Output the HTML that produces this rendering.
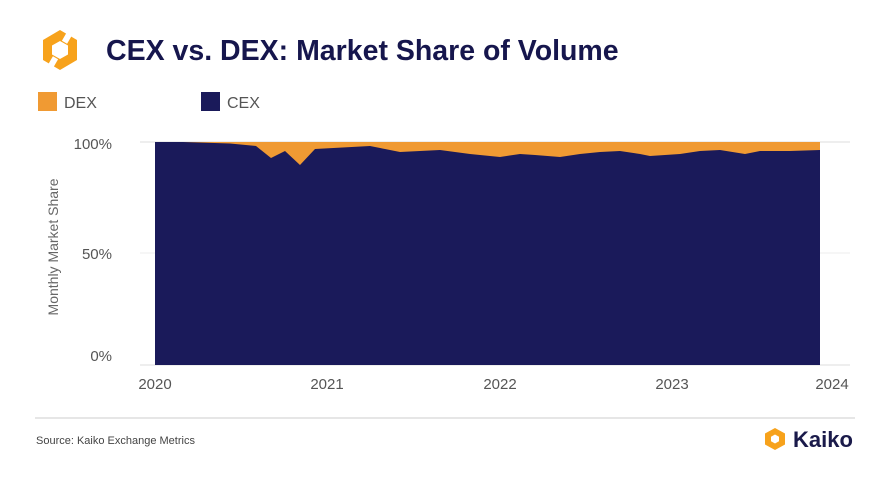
<!DOCTYPE html>
<html><head><style>
body{margin:0;background:#fff;font-family:"Liberation Sans",sans-serif;}
</style></head><body>
<svg width="889" height="475" xmlns="http://www.w3.org/2000/svg" font-family="Liberation Sans, sans-serif">
<g transform="translate(60,50)">
<polygon points="0,-20 17,-10 17,10 0,20 -17,10 -17,-10" fill="#f7a21b"/>
<polygon points="0,-9 8,-4.5 8,4.5 0,9 -8,4.5 -8,-4.5" fill="#fff"/>
<rect x="-3" y="-21" width="6" height="12" fill="#fff" transform="rotate(30)"/>
<rect x="-3" y="9" width="6" height="12" fill="#fff" transform="rotate(30)"/>
</g>
<text x="106" y="60" font-size="28.5" font-weight="bold" fill="#16164d">CEX vs. DEX: Market Share of Volume</text>
<rect x="38" y="92" width="19" height="19" fill="#f09a33"/>
<text x="64" y="108" font-size="16" fill="#555">DEX</text>
<rect x="201" y="92" width="19" height="19" fill="#1a1a5a"/>
<text x="227" y="108" font-size="16" fill="#555">CEX</text>
<line x1="140" y1="142" x2="850" y2="142" stroke="#ddd"/>
<line x1="140" y1="253" x2="850" y2="253" stroke="#eee"/>
<line x1="140" y1="365" x2="850" y2="365" stroke="#ddd"/>
<rect x="155" y="142" width="665" height="223" fill="#f09a33"/>
<polygon fill="#1a1a5a" points="155,142 183,142 230,143.5 256,146 271,158 285,151 300,165 315,149 370,146 385,149 400,152 440,150 470,154 500,157 520,154 535,155 560,157 580,154 600,152 620,151 640,154 650,156 680,154 700,151 720,150 745,154 760,151 790,151 820,150 820,365 155,365"/>
<text x="112" y="149" font-size="15" fill="#555" text-anchor="end">100%</text>
<text x="112" y="259" font-size="15" fill="#555" text-anchor="end">50%</text>
<text x="112" y="361" font-size="15" fill="#555" text-anchor="end">0%</text>
<text transform="translate(58,247) rotate(-90)" font-size="14" fill="#666" text-anchor="middle">Monthly Market Share</text>
<g font-size="15" fill="#555" text-anchor="middle">
<text x="155" y="389">2020</text><text x="327" y="389">2021</text><text x="500" y="389">2022</text><text x="672" y="389">2023</text><text x="832" y="389">2024</text>
</g>
<line x1="35" y1="418" x2="855" y2="418" stroke="#ccc"/>
<text x="36" y="444" font-size="11" fill="#444">Source: Kaiko Exchange Metrics</text>
<g transform="translate(775,439)">
<polygon points="0,-11 10,-5.5 10,5.5 0,11 -10,5.5 -10,-5.5" fill="#f7a21b"/>
<polygon points="0,-4.5 4,-2.2 4,2.2 0,4.5 -4,2.2 -4,-2.2" fill="#fff"/>
</g>
<text x="793" y="447" font-size="22" font-weight="bold" fill="#1a1a4a">Kaiko</text>
</svg>
</body></html>
